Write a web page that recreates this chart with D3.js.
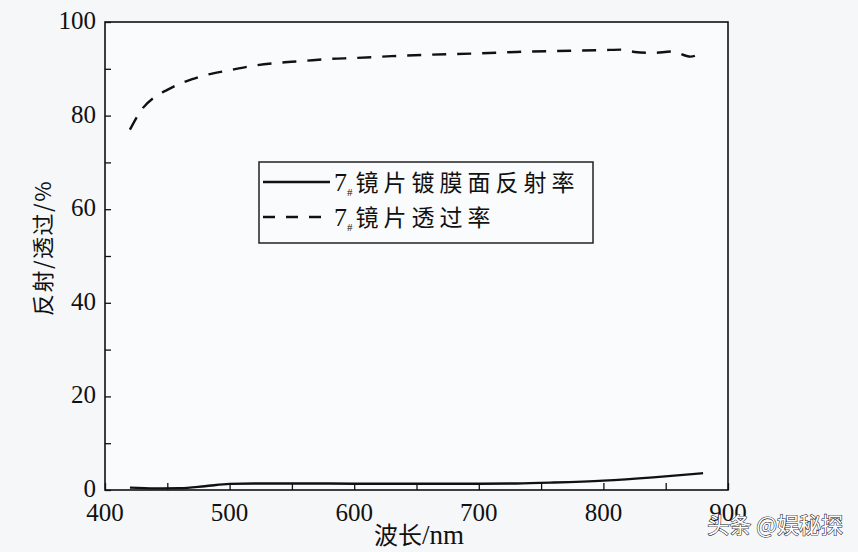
<!DOCTYPE html>
<html><head><meta charset="utf-8">
<script src="https://cdn.jsdelivr.net/npm/d3@7/dist/d3.min.js"></script>
<style>body{margin:0;background:#f6f7f9;}svg{display:block;}</style>
</head><body>
<svg id="c" width="858" height="552"></svg>
<script>
const wavelength_T = [420,430,440,450,460,470,480,500,520,540,560,580,600,630,660,700,730,760,800,815,825,840,855,870,880];
const transmittance = [77,81.5,84,85.5,86.8,87.8,88.6,89.7,90.7,91.3,91.7,92.1,92.3,92.7,93.0,93.3,93.6,93.8,94.0,94.1,93.6,93.4,93.7,92.6,93.8];
const wavelength_R = [420,440,460,480,500,520,560,600,650,700,730,760,800,840,880];
const reflectance = [0.5,0.35,0.4,0.8,1.3,1.4,1.4,1.35,1.35,1.35,1.4,1.6,2.0,2.7,3.6];
const xTicks = [400,500,600,700,800,900];
const yTicks = [0,20,40,60,80,100];
const legendLabels = ["镜片镀膜面反射率","镜片透过率"];

const svg = d3.select("#c");
const L=105, R=728, T=22, B=490;
const x = d3.scaleLinear().domain([400,900]).range([L,R]);
const y = d3.scaleLinear().domain([0,100]).range([B,T]);
const serif = "'Liberation Serif','DejaVu Serif',serif";
const cjk = "'Noto Sans CJK SC',sans-serif";

// frame
svg.append("rect").attr("x",L).attr("y",T).attr("width",R-L).attr("height",B-T)
  .attr("fill","#fafbfc").attr("stroke","#111").attr("stroke-width",1.6);

// axes with inward ticks
const xAxis = d3.axisBottom(x).tickValues(d3.range(400,901,50)).tickSize(-7).tickFormat("");
svg.append("g").attr("transform",`translate(0,${B})`).call(xAxis)
  .call(g=>{g.select(".domain").remove();g.selectAll("line").attr("stroke","#111").attr("stroke-width",1.3);});
const yAxis = d3.axisLeft(y).tickValues(d3.range(0,101,10)).tickSize(-6).tickFormat("");
svg.append("g").attr("transform",`translate(${L},0)`).call(yAxis)
  .call(g=>{g.select(".domain").remove();g.selectAll("line").attr("stroke","#111").attr("stroke-width",1.3);});

// tick labels
svg.append("g").selectAll("text").data(xTicks).join("text")
  .attr("x",d=>x(d)).attr("y",B+31).attr("text-anchor","middle")
  .attr("font-family",serif).attr("font-size",25).attr("fill","#111").text(d=>d);
svg.append("g").selectAll("text").data(yTicks).join("text")
  .attr("x",L-9).attr("y",d=>y(d)+7).attr("text-anchor","end")
  .attr("font-family",serif).attr("font-size",25).attr("fill","#111").text(d=>d);

// axis titles
const xt = svg.append("text").attr("x",419).attr("y",544).attr("text-anchor","middle")
  .attr("font-family",serif).attr("font-size",27).attr("fill","#111");
xt.append("tspan").attr("font-family",cjk).attr("font-size",24).text("波长");
xt.append("tspan").text("/nm");
svg.append("text").attr("transform","translate(51,248) rotate(-90)")
  .attr("text-anchor","middle").attr("font-family",cjk).attr("font-size",22)
  .attr("letter-spacing",1.5).attr("fill","#111")
  .text("反射/透过/%");

// lines
const lineT = d3.line().x((d,i)=>x(wavelength_T[i])).y(d=>y(d)).curve(d3.curveMonotoneX);
const lineR = d3.line().x((d,i)=>x(wavelength_R[i])).y(d=>y(d)).curve(d3.curveMonotoneX);
svg.append("path").attr("d",lineT(transmittance)).attr("fill","none")
  .attr("stroke","#111").attr("stroke-width",2.4).attr("stroke-dasharray","14,11");
svg.append("path").attr("d",lineR(reflectance)).attr("fill","none")
  .attr("stroke","#111").attr("stroke-width",2.4);

// legend
const lg = svg.append("g");
lg.append("rect").attr("x",259).attr("y",162).attr("width",334).attr("height",81)
  .attr("fill","#fafbfc").attr("stroke","#222").attr("stroke-width",1.5);
const rows=[{y:182,dash:null},{y:217,dash:"12,11"}];
rows.forEach((r,i)=>{
  lg.append("line").attr("x1",263).attr("x2",330).attr("y1",r.y).attr("y2",r.y)
    .attr("stroke","#111").attr("stroke-width",2.4).attr("stroke-dasharray",r.dash);
  const t = lg.append("text").attr("x",334).attr("y",r.y+9).attr("fill","#111");
  t.append("tspan").attr("font-family",serif).attr("font-size",26).text("7");
  t.append("tspan").attr("font-family",serif).attr("font-size",11).attr("dy",5).text("#");
  t.append("tspan").attr("font-family",cjk).attr("font-size",23).attr("dy",-5).attr("dx",3)
    .attr("letter-spacing",5).text(legendLabels[i]);
});

// watermark
svg.append("text").attr("x",843).attr("y",533).attr("text-anchor","end")
  .attr("font-family",cjk).attr("font-size",22).attr("fill","#fff")
  .attr("stroke","#222").attr("stroke-width",1.1).attr("paint-order","stroke")
  .text("头条 @娱秘探");
</script>
</body></html>
